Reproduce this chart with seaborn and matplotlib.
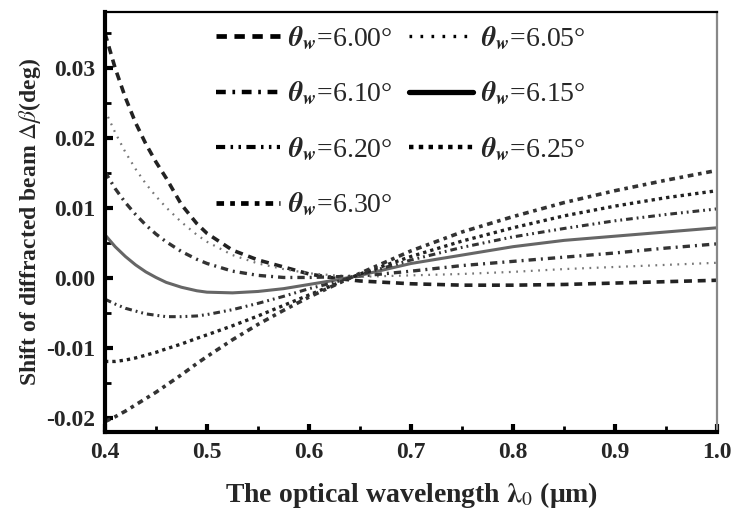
import numpy as np
import pandas as pd
import matplotlib
matplotlib.use("Agg")
import matplotlib.pyplot as plt
import seaborn as sns

wavelength = [0.40, 0.41, 0.42, 0.43, 0.44, 0.45, 0.46, 0.475, 0.49, 0.50, 0.525, 0.55, 0.575,
              0.60, 0.625, 0.65, 0.70, 0.75, 0.80, 0.85, 0.90, 0.95, 1.00]

theta_labels = ["6.00", "6.05", "6.10", "6.15", "6.20", "6.25", "6.30"]

shift_600 = [0.0350, 0.0300, 0.0258, 0.0222, 0.0192, 0.0166, 0.0143, 0.0105, 0.0078, 0.0064, 0.0040, 0.0026, 0.0016,
             0.0006, 0.0000, -0.0004, -0.0008, -0.0010, -0.0010, -0.0009, -0.0007, -0.0005, -0.0003]
shift_605 = [0.0240, 0.0208, 0.0180, 0.0156, 0.0135, 0.0117, 0.0101, 0.0080, 0.0062, 0.0052, 0.0033, 0.0021, 0.0013,
             0.0007, 0.0004, 0.0002, 0.0004, 0.0006, 0.0009, 0.0013, 0.0016, 0.0019, 0.0022]
shift_610 = [0.0152, 0.0128, 0.0108, 0.0091, 0.0076, 0.0063, 0.0052, 0.0038, 0.0027, 0.0021, 0.0010, 0.0004, 0.0001,
             0.0001, 0.0002, 0.0003, 0.0010, 0.0018, 0.0024, 0.0030, 0.0036, 0.0043, 0.0049]
shift_615 = [0.0062, 0.0045, 0.0031, 0.0019, 0.0009, 0.0001, -0.0006, -0.0013, -0.0018, -0.0020, -0.0021, -0.0019, -0.0015,
             -0.0009, -0.0003, 0.0004, 0.0021, 0.0033, 0.0045, 0.0054, 0.0060, 0.0066, 0.0072]
shift_620 = [-0.0030, -0.0037, -0.0043, -0.0047, -0.0051, -0.0053, -0.0055, -0.0055, -0.0054, -0.0052, -0.0045, -0.0036, -0.0026,
             -0.0015, -0.0006, 0.0005, 0.0026, 0.0044, 0.0059, 0.0071, 0.0082, 0.0091, 0.0099]
shift_625 = [-0.0119, -0.0119, -0.0117, -0.0114, -0.0110, -0.0106, -0.0101, -0.0094, -0.0086, -0.0081, -0.0068, -0.0054, -0.0039,
             -0.0024, -0.0009, 0.0006, 0.0031, 0.0053, 0.0072, 0.0089, 0.0103, 0.0115, 0.0125]
shift_630 = [-0.0205, -0.0198, -0.0190, -0.0181, -0.0172, -0.0163, -0.0153, -0.0138, -0.0122, -0.0112, -0.0088, -0.0066, -0.0046,
             -0.0027, -0.0010, 0.0007, 0.0039, 0.0066, 0.0088, 0.0108, 0.0125, 0.0140, 0.0154]

series = [shift_600, shift_605, shift_610, shift_615, shift_620, shift_625, shift_630]

rows = []
for lab, vals in zip(theta_labels, series):
    for x, y in zip(wavelength, vals):
        rows.append({"wl": x, "shift": y, "theta": lab})
df = pd.DataFrame(rows)

sns.set_theme(style="white")
plt.rcParams["font.family"] = ["Liberation Serif", "DejaVu Serif"]
plt.rcParams["mathtext.fontset"] = "stix"

dashes = {
    "6.00": (2.2, 1.6),
    "6.05": (0.8, 2.5),
    "6.10": (2.2, 1.5, 0.6, 1.5),
    "6.15": "",
    "6.20": (2.2, 1.3, 0.6, 1.3, 0.6, 1.3),
    "6.25": (1.0, 1.2),
    "6.30": (1.6, 1.3, 1.0, 1.3),
}
palette = {
    "6.00": "#222222",
    "6.05": "#777777",
    "6.10": "#333333",
    "6.15": "#111111",
    "6.20": "#333333",
    "6.25": "#222222",
    "6.30": "#333333",
}
widths = {"6.00": 2.6, "6.05": 1.6, "6.10": 2.4, "6.15": 3.0,
          "6.20": 2.2, "6.25": 2.4, "6.30": 2.6}

fig, ax = plt.subplots(figsize=(7.31, 5.09), dpi=100)
fig.subplots_adjust(left=0.1436, right=0.981, top=0.976, bottom=0.151)

sns.lineplot(data=df, x="wl", y="shift", hue="theta", style="theta",
             dashes=dashes, palette=palette, hue_order=theta_labels,
             style_order=theta_labels, ax=ax, linewidth=2, legend=True)

for line, lab in zip(ax.get_lines()[:len(theta_labels)], theta_labels):
    line.set_linewidth(widths[lab])
    if lab == "6.15":
        line.set_color("#666666")
        line.set_linewidth(2.2)

handles, labels = ax.get_legend_handles_labels()
hmap = dict(zip(labels, handles))
for lab in theta_labels:
    h = hmap[lab]
    h.set_linewidth(widths[lab] + 0.8)
    h.set_color("black")
order = ["6.00", "6.10", "6.20", "6.30", "6.05", "6.15", "6.25"]
leg = ax.legend([hmap[k] for k in order],
                [r"$\boldsymbol{\theta}_{\boldsymbol{w}}$=" + k + "°" for k in order],
                ncol=2, frameon=False, loc="upper left",
                bbox_to_anchor=(0.14, 1.03), fontsize=20,
                handlelength=2.3, handletextpad=0.3, columnspacing=0.6,
                labelspacing=1.0)

ax.set_xlim(0.4, 1.0)
ax.set_ylim(-0.022, 0.038)
ax.set_xticks([0.4, 0.5, 0.6, 0.7, 0.8, 0.9, 1.0])
ax.set_xticks(np.arange(0.45, 1.0, 0.1), minor=True)
ax.set_yticks([-0.02, -0.01, 0.0, 0.01, 0.02, 0.03])
ax.set_yticks([-0.015, -0.005, 0.005, 0.015, 0.025, 0.035], minor=True)
ax.set_xticklabels(["0.4", "0.5", "0.6", "0.7", "0.8", "0.9", "1.0"])
ax.set_yticklabels(["-0.02", "-0.01", "0.00", "0.01", "0.02", "0.03"])
ax.tick_params(axis="both", which="major", direction="in", length=6, width=3,
               labelsize=17, color="black", pad=7)
ax.tick_params(axis="both", which="minor", direction="in", length=4, width=2,
               color="black")
ax.tick_params(bottom=True, left=True, top=False, right=False)
ax.tick_params(which="minor", bottom=True, left=True, top=False, right=False)
for t in ax.get_xticklabels() + ax.get_yticklabels():
    t.set_fontweight("bold")

ax.spines["left"].set_linewidth(3)
ax.spines["bottom"].set_linewidth(3)
ax.spines["left"].set_color("black")
ax.spines["bottom"].set_color("black")
ax.spines["top"].set_linewidth(1.6)
ax.spines["top"].set_color("black")
ax.spines["right"].set_linewidth(1.6)
ax.spines["right"].set_color("#888888")

ax.set_xlabel(r"The optical wavelength $\boldsymbol{\lambda}_{0}$ (μm)", fontsize=20,
              fontweight="bold", labelpad=12)
ax.set_ylabel(r"Shift of diffracted beam $\Delta\beta$(deg)", fontsize=17,
              fontweight="bold", labelpad=2)

fig.savefig("out.png", dpi=100)
